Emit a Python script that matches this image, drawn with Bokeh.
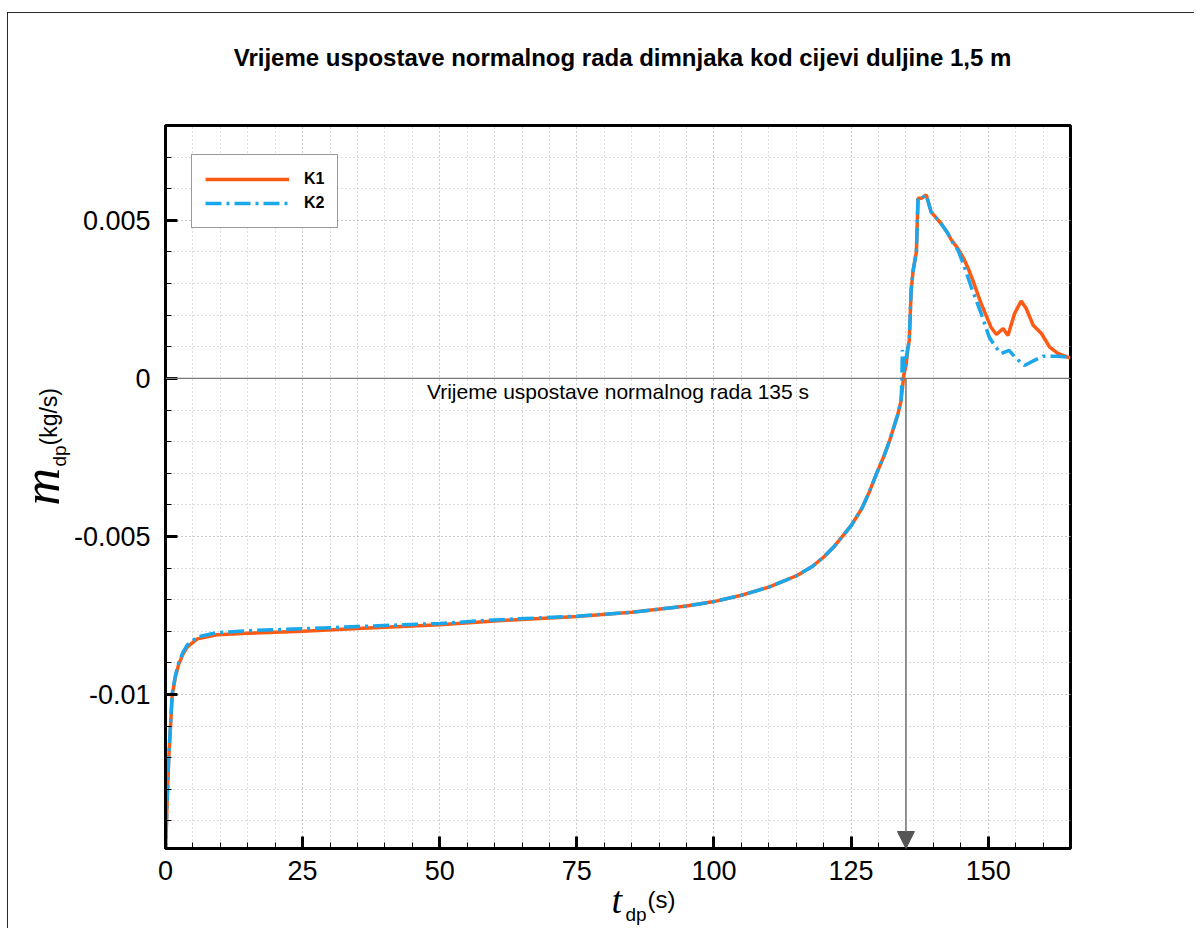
import math
from bokeh.plotting import figure
from bokeh.models import (Range1d, FixedTicker, Label, Span, Arrow, NormalHead,
                          Legend, LegendItem, InlineStyleSheet)
from bokeh.embed import file_html
from bokeh.resources import INLINE

# ---------------- data ----------------
title_text = "Vrijeme uspostave normalnog rada dimnjaka kod cijevi duljine 1,5 m"
note_text = "Vrijeme uspostave normalnog rada 135 s"
normal_time = 135.0

t_k1 = [0.0, 0.15, 0.31, 0.6, 0.91, 1.22, 1.8, 2.43, 3.2, 3.95,
        5.78, 9.4, 15, 25, 35, 50, 60, 75, 85, 95,
        100, 105, 110, 115, 118, 120, 122, 125, 127, 128.3,
        129.6, 131, 132, 133.5, 134.1, 134.3, 134.6, 135.0, 135.3, 135.6,
        135.95, 136.3, 136.9, 137.2, 137.8, 138.7, 139.6, 141.4, 142.6, 143.2,
        144.5, 145.5, 146.3, 147.2, 148.7, 150.5, 151.5, 152.7, 153.6, 154.8,
        156.0, 156.9, 158.2, 159.7, 161.2, 162.7, 164.5, 165.0]
m_k1 = [-0.0152, -0.0142, -0.01335, -0.01198, -0.01103, -0.01001, -0.00945, -0.00903, -0.00872, -0.0085,
        -0.00824, -0.00811, -0.00806, -0.0080, -0.00791, -0.00779, -0.00767, -0.00753, -0.0074, -0.0072,
        -0.00706, -0.00686, -0.0066, -0.00625, -0.00594, -0.00565, -0.0053, -0.00466, -0.0041, -0.0036,
        -0.00303, -0.00245, -0.00198, -0.00115, -0.00072, -0.0004, 0.0001, 0.0004, 0.0009, 0.0012,
        0.0028, 0.0034, 0.0040, 0.0057, 0.0057, 0.0058, 0.00526, 0.0049, 0.0046, 0.0044,
        0.0041, 0.0038, 0.0035, 0.0031, 0.00237, 0.00162, 0.00139, 0.00158, 0.00136, 0.00205,
        0.00245, 0.00222, 0.00168, 0.00142, 0.00099, 0.00079, 0.00067, 0.00065]

t_k2 = [0.0, 0.15, 0.31, 0.6, 0.91, 1.22, 1.8, 2.43, 3.2, 3.95,
        5.78, 9.4, 15, 25, 35, 50, 60, 75, 85, 95,
        100, 105, 110, 115, 118, 120, 122, 125, 127, 128.3,
        129.6, 131, 132, 133.5, 134.1, 134.25, 134.35, 134.5, 134.7, 135.0,
        135.3, 135.6, 135.95, 136.3, 136.9, 137.2, 137.8, 138.7, 139.6, 141.4,
        142.6, 143.5, 144.5, 145.5, 146.9, 148.7, 150.2, 151.3, 152.4, 153.8,
        155.1, 156.6, 158.4, 160.0, 162.7, 165.0]
m_k2 = [-0.0152, -0.0141, -0.0133, -0.01192, -0.01097, -0.00996, -0.0094, -0.00898, -0.00866, -0.00844,
        -0.00818, -0.00804, -0.00798, -0.00792, -0.00785, -0.00775, -0.00764, -0.00752, -0.0074, -0.0072,
        -0.00706, -0.00686, -0.0066, -0.00625, -0.00594, -0.00565, -0.0053, -0.00466, -0.0041, -0.0036,
        -0.00303, -0.00245, -0.00198, -0.00115, -0.00072, -0.0001, 0.0009, 0.0007, 0.0002, 0.0005,
        0.0009, 0.0012, 0.0028, 0.0034, 0.0040, 0.0057, 0.0057, 0.0058, 0.00526, 0.0049,
        0.0046, 0.0043, 0.00405, 0.0036, 0.00289, 0.00206, 0.0013, 0.0010, 0.00079, 0.00089,
        0.00063, 0.00041, 0.00057, 0.0007, 0.0007, 0.00067]

x_major = [0, 25, 50, 75, 100, 125, 150]
x_minor = [5 * i for i in range(0, 34)]
y_major = [-0.01, -0.005, 0.0, 0.005]
y_major_labels = ["-0.01", "-0.005", "0", "0.005"]
y_minor = [round(-0.014 + 0.001 * i, 3) for i in range(0, 23)]

X_MIN, X_MAX = 0.0, 165.0
Y_MIN, Y_MAX = -0.01487, 0.008

# ---------------- figure ----------------
W, H = 1194, 928
FL, FR, FT, FB = 165.0, 1070.0, 125.0, 848.0   # frame edges in picture pixels
p = figure(width=W, height=H, output_backend="svg", toolbar_location=None,
           x_range=Range1d(X_MIN, X_MAX), y_range=Range1d(Y_MIN, Y_MAX),
           min_border_left=int(FL), min_border_right=int(W - FR),
           min_border_top=int(FT), min_border_bottom=int(H - FB))
p.title.visible = False
p.background_fill_color = "white"
p.border_fill_color = "white"
p.outline_line_color = "black"
p.outline_line_width = 3

# thin outer page frame (top and left edges only, as in the reference)
p.stylesheets = [InlineStyleSheet(css=
    ":host { position: relative; }"
    ":host::before { content: ''; position: absolute; left: 7px; top: 12px; right: 0px;"
    " height: 0px; border-top: 1.5px solid #2a2a2a; pointer-events: none; z-index: 5; }"
    ":host::after { content: ''; position: absolute; left: 7px; top: 12px; bottom: 0px;"
    " width: 0px; border-left: 1.5px solid #2a2a2a; pointer-events: none; z-index: 5; }")]

# picture px -> data (for text annotations only)
def dx(px):
    return X_MIN + (px - FL) / (FR - FL) * (X_MAX - X_MIN)
def dy(py):
    return Y_MAX - (py - FT) / (FB - FT) * (Y_MAX - Y_MIN)

p.xaxis.ticker = FixedTicker(ticks=x_major, minor_ticks=x_minor)
p.yaxis.ticker = FixedTicker(ticks=y_major, minor_ticks=y_minor)
p.yaxis.major_label_overrides = {v: s for v, s in zip(y_major, y_major_labels)}

for ax in (p.xaxis[0], p.yaxis[0]):
    ax.axis_line_width = 3
    ax.axis_line_color = "black"
    ax.major_tick_in = 12
    ax.major_tick_out = 0
    ax.major_tick_line_width = 3
    ax.minor_tick_in = 6
    ax.minor_tick_out = 0
    ax.minor_tick_line_width = 1
    ax.major_label_text_font = "Liberation Sans"
    ax.major_label_text_font_size = "27px"
    ax.major_label_text_color = "black"
p.xaxis.major_label_standoff = 12
p.yaxis.major_label_standoff = 15

for g in (p.xgrid[0], p.ygrid[0]):
    g.grid_line_color = "#b8b8b8"
    g.grid_line_dash = "1 3"
    g.grid_line_width = 1
    g.minor_grid_line_color = "#b8b8b8"
    g.minor_grid_line_dash = "1 3"
    g.minor_grid_line_width = 1

# zero line
p.add_layout(Span(location=0.0, dimension="width", line_color="#7a7a7a", line_width=1.2))

# arrow marking time of normal operation
p.add_layout(Arrow(end=NormalHead(size=17, fill_color="#555555", line_color="#555555"),
                   x_start=normal_time, y_start=0.0, x_end=normal_time, y_end=Y_MIN,
                   line_color="#707070", line_width=1.5))

ORANGE = "#ff5a14"
BLUE = "#1aa7ec"
r1 = p.line(t_k1, m_k1, line_color=ORANGE, line_width=3.5)
r2 = p.line(t_k2, m_k2, line_color=BLUE, line_width=3.5, line_dash="16 5 3 5")

legend = Legend(items=[LegendItem(label="K1", renderers=[r1]),
                       LegendItem(label="K2", renderers=[r2])],
                location=(26, 620), orientation="vertical",
                label_text_font="Liberation Sans", label_text_font_style="bold",
                label_text_font_size="16px", label_text_color="black",
                glyph_width=84, glyph_height=22,
                label_height=22, label_standoff=15, padding=13, spacing=2, margin=0,
                border_line_color="#333333", border_line_width=1,
                background_fill_color="white", background_fill_alpha=1.0)
p.add_layout(legend)

# baseline correction observed for Label text (about 0.4 em)
def base(pos, fs):
    return pos - 0.4 * fs

# annotation text under the zero line (inside the frame)
p.add_layout(Label(x=dx(617.5), y=dy(base(399, 21)), text=note_text, text_align="center",
                   text_baseline="alphabetic", text_font="Liberation Sans",
                   text_font_size="21px", text_color="black"))

# texts outside the frame go into side panels (not clipped there)
def side_label(place, **kw):
    kw.setdefault("text_baseline", "alphabetic")
    kw.setdefault("text_align", "left")
    kw.setdefault("text_color", "black")
    p.add_layout(Label(**kw), place)

# title
side_label("above", x=dx(622), y=dy(base(66.5, 24)), text=title_text, text_align="center",
           text_font="Liberation Sans", text_font_style="bold", text_font_size="24px")

# x axis label: t_dp(s)
side_label("above", x=dx(611), y=dy(base(915, 38)), text="t",
           text_font="Liberation Serif", text_font_style="italic", text_font_size="38px")
side_label("below", x=dx(625), y=dy(base(922, 19)), text="dp",
           text_font="Liberation Sans", text_font_size="19px")
side_label("above", x=dx(647), y=dy(base(909, 24)), text="(s)",
           text_font="Liberation Sans", text_font_size="24px")

# y axis label: m_dp (kg/s), rotated (baseline is a vertical line at the given x)
ang = math.pi / 2
side_label("right", x=dx(base(62, 52)), y=dy(505), text="m", angle=ang,
           text_font="Liberation Serif", text_font_style="italic", text_font_size="52px")
side_label("right", x=dx(base(67, 19)), y=dy(466), text="dp", angle=ang,
           text_font="Liberation Sans", text_font_size="19px")
side_label("right", x=dx(base(58, 23)), y=dy(445), text="(kg/s)", angle=ang,
           text_font="Liberation Sans", text_font_size="23px")

open("out.html", "w").write(file_html(p, INLINE))
